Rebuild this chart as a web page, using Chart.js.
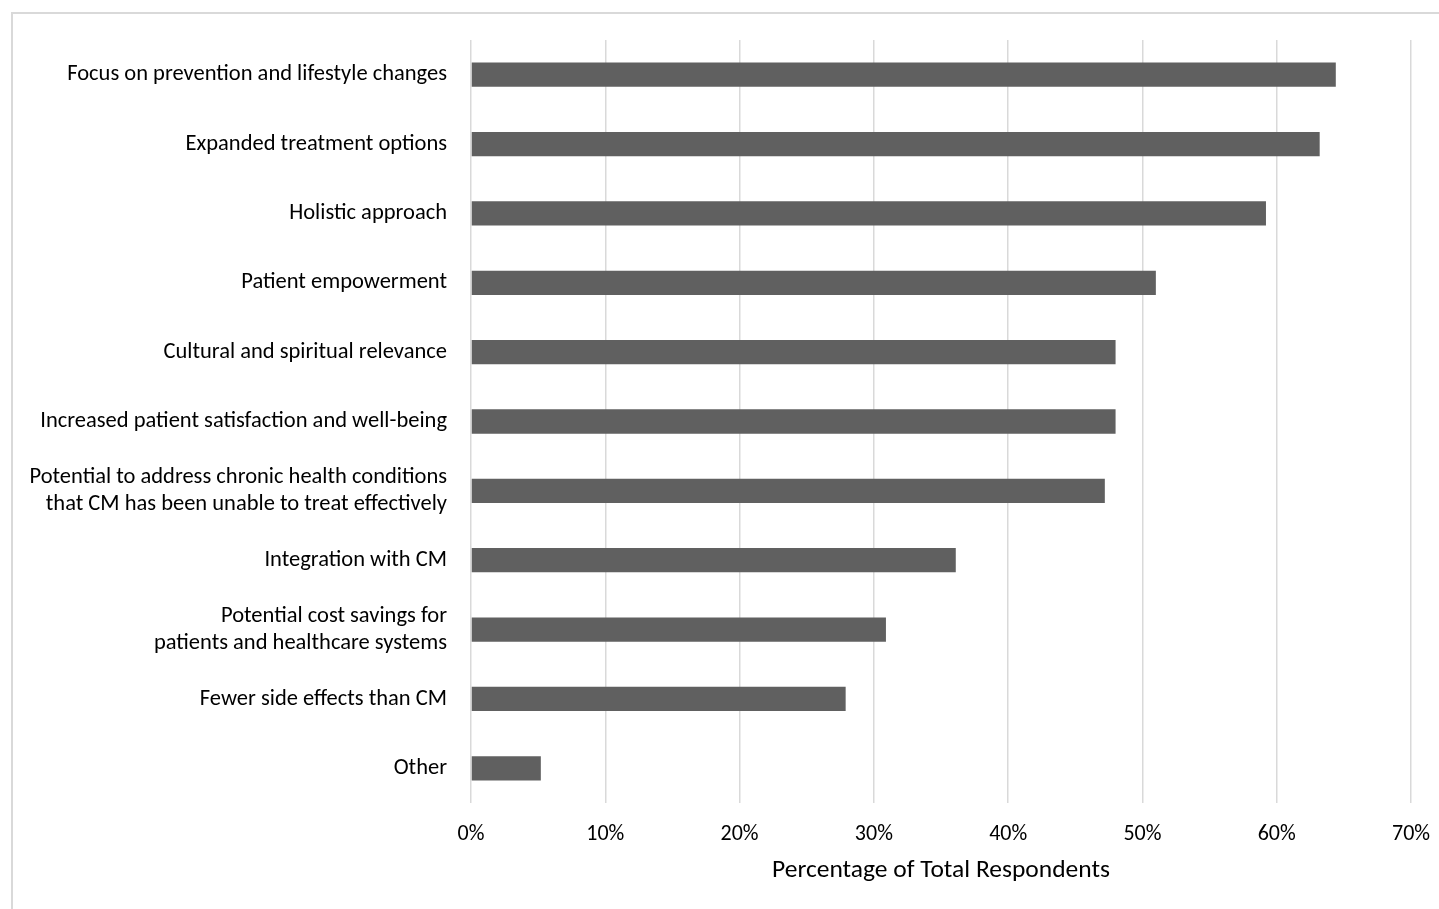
<!DOCTYPE html>
<html>
<head>
<meta charset="utf-8">
<script src="https://cdn.jsdelivr.net/npm/chart.js@4/dist/chart.umd.min.js"></script>
<style>
    html, body { margin: 0; padding: 0; background: #fff; overflow: hidden; }
    #frame {
        position: absolute; left: 11px; top: 12px;
        width: 1460px; height: 920px;
        border: 2px solid #d9d9d9;
    }
    #wrap { position: absolute; left: 0; top: 0; width: 1439px; height: 909px; }
</style>
</head>
<body>
<div id="frame"></div>
<div id="wrap"><canvas id="chart"></canvas></div>
<script>
    // 各项内容（自上而下）
    var categories = [
        'Focus on prevention and lifestyle changes',
        'Expanded treatment options',
        'Holistic approach',
        'Patient empowerment',
        'Cultural and spiritual relevance',
        'Increased patient satisfaction and well-being',
        ['Potential to address chronic health conditions', 'that CM has been unable to treat effectively'],
        'Integration with CM',
        ['Potential cost savings for', 'patients and healthcare systems'],
        'Fewer side effects than CM',
        'Other'
    ];

    // 受访者比例 (%)
    var percentages = [64.4, 63.2, 59.2, 51.0, 48.0, 48.0, 47.2, 36.1, 30.9, 27.9, 5.2];

    var xTicks = [0, 10, 20, 30, 40, 50, 60, 70];

    var FONT = "Carlito, Calibri, Lato, 'Open Sans', sans-serif";

    var ctx = document.getElementById('chart').getContext('2d');

    new Chart(ctx, {
        type: 'bar',
        data: {
            labels: categories,
            datasets: [{
                data: percentages,
                backgroundColor: '#606060',
                borderWidth: 0,
                categoryPercentage: 1,
                barPercentage: 0.35
            }]
        },
        options: {
            indexAxis: 'y',
            responsive: true,
            maintainAspectRatio: false,
            animation: false,
            layout: { padding: { left: 0, top: 40, right: 28, bottom: 0 } },
            plugins: {
                legend: { display: false },
                tooltip: { enabled: false }
            },
            scales: {
                x: {
                    min: 0,
                    max: 70,
                    afterBuildTicks: function (scale) {
                        scale.ticks = xTicks.map(function (v) { return { value: v }; });
                    },
                    afterFit: function (scale) {
                        scale.height = 106;
                        scale.paddingLeft = 0;
                        scale.paddingRight = 0;
                    },
                    grid: { color: '#d9d9d9', lineWidth: 1.5, drawTicks: false },
                    border: { display: false },
                    ticks: {
                        padding: 18,
                        color: '#000',
                        font: { family: FONT, size: 22 },
                        callback: function (v) { return v + '%'; }
                    },
                    title: {
                        display: true,
                        text: 'Percentage of Total Respondents',
                        color: '#000',
                        font: { family: FONT, size: 25.5 },
                        padding: { top: 0, bottom: 23 }
                    }
                },
                y: {
                    afterFit: function (scale) { scale.width = 471; },
                    grid: { display: false, drawTicks: false },
                    border: { display: false },
                    ticks: {
                        padding: 24,
                        color: '#000',
                        font: { family: FONT, size: 22.5, lineHeight: 1.2 }
                    }
                }
            }
        }
    });
</script>
</body>
</html>
